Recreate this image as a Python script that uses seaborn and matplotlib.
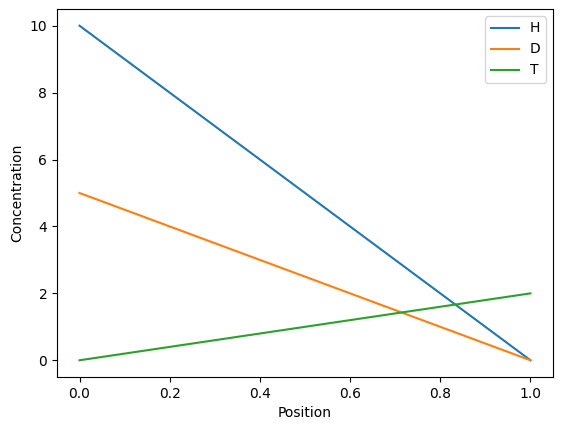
import pandas as pd
import matplotlib
matplotlib.use("Agg")
import matplotlib.pyplot as plt
import seaborn as sns

# Endpoint values
position = [0.0, 1.0]
conc_h = [10.0, 0.0]
conc_d = [5.0, 0.0]
conc_t = [0.0, 2.0]
species = ["H", "D", "T"]
colors = ["#1f77b4", "#ff7f0e", "#2ca02c"]

frames = []
for name, vals in zip(species, [conc_h, conc_d, conc_t]):
    frames.append(pd.DataFrame({"Position": position, "Concentration": vals, "Species": name}))
df = pd.concat(frames, ignore_index=True)

fig, ax = plt.subplots(figsize=(5.63, 4.32), dpi=100)
fig.subplots_adjust(left=57 / 563, right=553 / 563, top=1 - 9 / 432, bottom=1 - 377 / 432)

sns.lineplot(data=df, x="Position", y="Concentration", hue="Species",
             palette=colors, ax=ax, linewidth=1.5)

ax.set_xlabel("Position")
ax.set_ylabel("Concentration")
ax.legend(loc="upper right", title=None)

fig.savefig("out.png", dpi=100)
